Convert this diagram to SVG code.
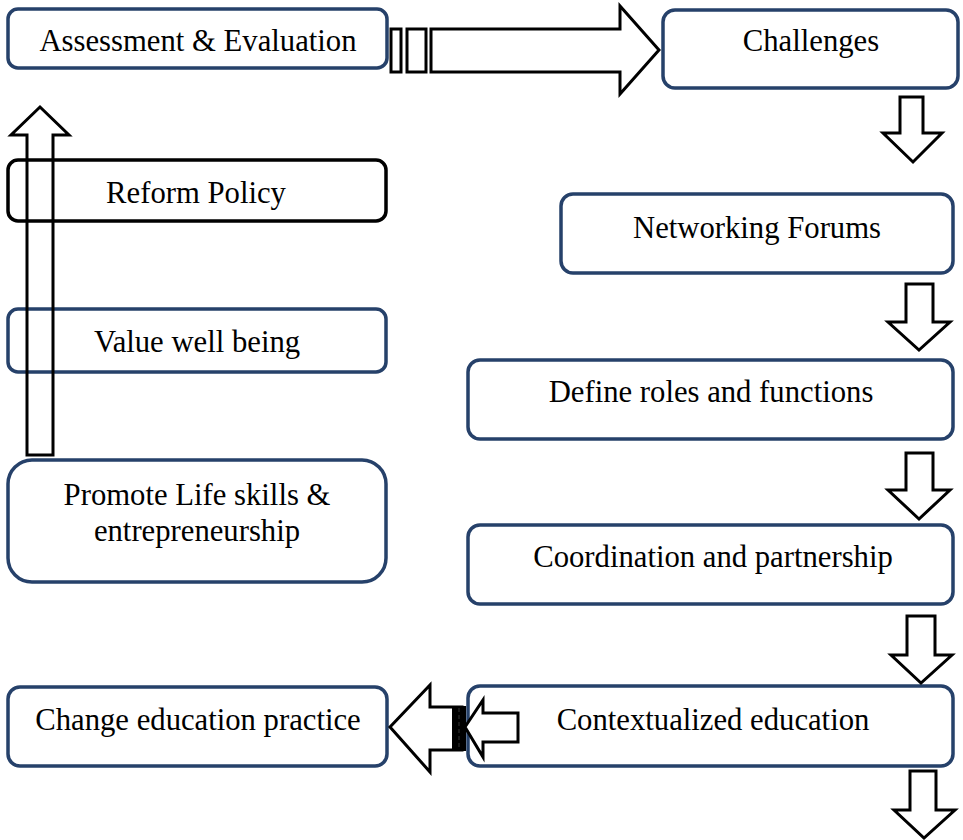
<svg xmlns="http://www.w3.org/2000/svg" width="963" height="840" viewBox="0 0 963 840">
<style>
.box{fill:#fff;stroke:#26416a;stroke-width:3.5}
.boxk{fill:#fff;stroke:#000;stroke-width:3.5}
.t{font-family:"Liberation Serif","Times New Roman",serif;font-size:30.7px;fill:#000;text-anchor:middle}
.ar{fill:#fff;stroke:#000;stroke-width:3;stroke-linejoin:miter}
.arn{fill:none;stroke:#000;stroke-width:3;stroke-linejoin:miter}
</style>
<rect width="963" height="840" fill="#fff"/>
<g id="n-assessment"><rect class="box" x="8" y="9" width="379" height="59" rx="10"/><text class="t" x="198" y="51">Assessment &amp; Evaluation</text></g>
<g id="n-challenges"><rect class="box" x="663" y="10" width="295" height="78" rx="12"/><text class="t" x="811" y="51">Challenges</text></g>
<g id="n-reform"><rect class="boxk" x="8" y="160" width="378" height="61" rx="10"/><text class="t" x="196" y="203">Reform Policy</text></g>
<g id="n-networking"><rect class="box" x="561" y="194" width="392" height="79" rx="12"/><text class="t" x="757" y="238">Networking Forums</text></g>
<g id="n-value"><rect class="box" x="8" y="309" width="378" height="63" rx="10"/><text class="t" x="197" y="352">Value well being</text></g>
<g id="n-define"><rect class="box" x="468" y="360" width="485" height="79" rx="12"/><text class="t" x="711" y="402">Define roles and functions</text></g>
<g id="n-promote"><rect class="box" x="8" y="460" width="378" height="122" rx="24"/><text class="t" x="197" y="505">Promote Life skills &amp;</text><text class="t" x="197" y="541">entrepreneurship</text></g>
<g id="n-coordination"><rect class="box" x="468" y="525" width="485" height="79" rx="12"/><text class="t" x="713" y="567">Coordination and partnership</text></g>
<g id="n-change"><rect class="box" x="8" y="687" width="379" height="79" rx="12"/><text class="t" x="198" y="730">Change education practice</text></g>
<g id="n-contextualized"><rect class="box" x="468" y="686" width="485" height="80" rx="12"/><text class="t" x="713" y="730">Contextualized education</text></g>
<g id="connectors">
<rect class="ar" x="391" y="29" width="10" height="43"/>
<rect class="ar" x="407" y="29" width="19" height="43"/>
<path class="ar" d="M431,29 H620 V6 L659,50 L620,94 V72 H431 Z"/>
<path class="ar" d="M900,97 H923 V133 H942 L913,162 L883,133 H900 Z"/>
<path class="ar" d="M906,284 H933 V322 H950 L919,350 L888,322 H906 Z"/>
<path class="ar" d="M906,453 H933 V490 H950 L919,519 L888,490 H906 Z"/>
<path class="ar" d="M907,616 H935 V655 H952 L921,683 L891,655 H907 Z"/>
<path class="ar" d="M910,771 H936 V810 H955 L924,838 L894,810 H910 Z"/>
<path class="arn" d="M27,455 V135 H11 L40,107 L69,135 H53 V455 Z"/>
<path class="ar" d="M462,707 H430 V685 L390,727 L430,772 V750 H462 Z"/>
<rect x="452" y="706" width="14" height="45" fill="#000"/>
<line x1="459" y1="708" x2="459" y2="749" stroke="#444" stroke-width="0.8" stroke-dasharray="4,3"/>
<path class="ar" d="M518,713 H483 V700 L465,727 L483,757 V742 H518 Z"/>
</g>
</svg>
